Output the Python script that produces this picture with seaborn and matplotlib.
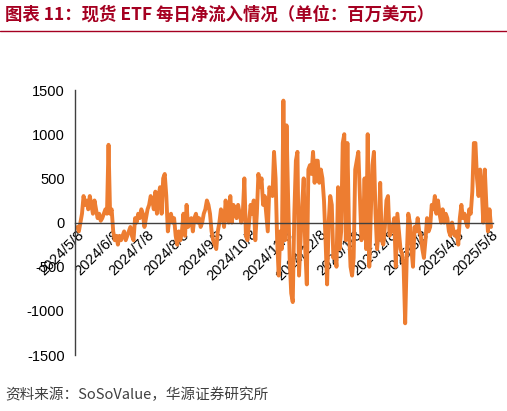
import numpy as np
import pandas as pd
import matplotlib
matplotlib.use('Agg')
import matplotlib.pyplot as plt
import seaborn as sns

sns.set_style("white")
plt.rcParams['font.family'] = ['Liberation Sans', 'Noto Sans CJK SC', 'DejaVu Sans']
plt.rcParams['axes.unicode_minus'] = False

start_date = "2024-05-08"
end_date = "2025-05-08"
tick_labels = ["2024/5/8", "2024/6/8", "2024/7/8", "2024/8/8", "2024/9/8", "2024/10/8",
               "2024/11/8", "2024/12/8", "2025/1/8", "2025/2/8", "2025/3/8", "2025/4/8", "2025/5/8"]

may = [-50, -100, 0, 100, 300, 200, 250, 150, 300, 200, 100, 250, 150, 50, 100, 20, 50, 100, 150, 100, 880, 100]
jun = [150, -100, -200, -150, -250, -150, -200, -150, -100, -200, -150, -100, -50, -150, -200, 50, 0, 100, 50, 150, 100, -50]
jul = [50, 150, 200, 300, 250, 150, 350, 100, 300, 400, 100, 500, 550, 300, -100, 50, 100, 0, 50, -150, -250, -100]
aug = [-200, -100, 100, -150, 200, -50, 0, 50, -100, 50, 100, 0, 50, -50, 0, 100, 150, 250, 200, 100, -100, -200]
sep = [-250, -300, -100, 0, 150, 100, -50, 250, 50, 0, 300, 0, 200, 150, 50, 200, 100, 0, 100, 500, -150, -200]
oct_ = [0, 200, 100, 250, -200, 100, 550, 400, 500, 200, 300, 100, -100, 400, 350, 300, 800, 500, -200, -600, -100, -300]
nov = [1380, -200, 1100, 300, -400, -800, -900, 100, 700, 800, -600, -200, 200, 500, -300, -700, 600, 650, 550, 800, 450, 700]
dec = [700, 450, 600, 500, 250, -200, -700, -1, 300, 200, -400, -300, -500, 400, -300, -100, 900, 1000, -200, 900, -50, -500]
jan = [-600, -400, 600, 700, 800, 300, -200, -100, 500, -300, 1000, -500, 100, 650, 800, 100, -300, -100, 450, -200, -250, -50]
feb = [250, 300, -150, -100, -50, 50, -500, 100, -100, -300, -350, -500, -1140, -400, 100, 0, -300, -500, -50, -100, 50, -100]
mar = [-150, -300, -400, -200, 50, -100, -50, 200, 150, 300, 100, 250, 100, 0, 150, 0, 100, 50, -100, -150, 0, -100]
apr = [-150, -100, -250, 50, 200, 50, 100, 0, -50, 150, 100, 350, 900, 900, 500, 300, 600, 400, 0, 600, 200, -100, 150, -50]

flows = may + jun + jul + aug + sep + oct_ + nov + dec + jan + feb + mar + apr
dates = pd.date_range(start_date, end_date, periods=len(flows))
df = pd.DataFrame({'date': dates, 'flow': flows})

fig = plt.figure(figsize=(5.07, 4.11), dpi=100)
ax = fig.add_axes([0.148, 0.136, 0.825, 0.645])
sns.lineplot(data=df, x='date', y='flow', ax=ax, color='#ED7D31', linewidth=2.8)

ax.set_ylim(-1500, 1500)
ax.set_yticks(np.arange(-1500, 1501, 500))
ax.set_xlim(pd.Timestamp(start_date) - pd.Timedelta(days=2), pd.Timestamp(end_date) + pd.Timedelta(days=2))
ticks = pd.to_datetime(tick_labels, format="%Y/%m/%d")
ax.set_xticks(ticks, labels=tick_labels)
ax.spines['bottom'].set_position(('data', 0))
for s in ['top', 'right']:
    ax.spines[s].set_visible(False)
for s in ['left', 'bottom']:
    ax.spines[s].set_color('#404040')
    ax.spines[s].set_linewidth(1.0)
ax.tick_params(axis='both', labelsize=10.5, colors='black', length=4, direction='out')
ax.tick_params(axis='x', direction='in')
for lbl in ax.get_xticklabels():
    lbl.set_rotation(45)
    lbl.set_ha('right')
    lbl.set_rotation_mode('anchor')
ax.set_xlabel('')
ax.set_ylabel('')

fig.text(0.01, 0.965, '图表 11：现货 ETF 每日净流入情况（单位：百万美元）', fontsize=12.5,
         fontweight='bold', color='#A50021', va='center',
         family=['Noto Sans CJK SC', 'DejaVu Sans'])
fig.add_artist(plt.Line2D([0.0, 1.0], [0.925, 0.925], color='#A50021', linewidth=1.0))
fig.text(0.01, 0.04, '资料来源：SoSoValue，华源证券研究所', fontsize=10.5, color='#404040',
         va='center', family=['Noto Sans CJK SC', 'DejaVu Sans'])

fig.savefig('out.png', dpi=100)
